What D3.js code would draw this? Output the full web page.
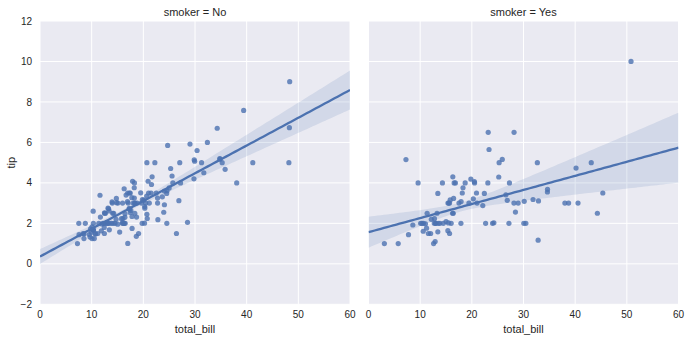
<!DOCTYPE html>
<html><head><meta charset="utf-8">
<script src="https://cdn.jsdelivr.net/npm/d3@7"></script>
<style>
html,body{margin:0;padding:0;background:#fff;}
svg{display:block;font-family:"Liberation Sans",Arial,sans-serif;}
</style></head>
<body><svg id="chart" width="690" height="341"></svg>
<script>
// ---- data (tips dataset, split by smoker) ----
const panelTitles = ["smoker = No", "smoker = Yes"];
const xTicks = [0, 10, 20, 30, 40, 50, 60];
const yTicks = [-2, 0, 2, 4, 6, 8, 10, 12];
const xLabel = "total_bill";
const yLabel = "tip";

const noBill = [16.99,10.34,21.01,23.68,24.59,25.29,8.77,26.88,15.04,14.78,10.27,35.26,15.42,18.43,14.83,21.58,10.33,16.29,16.97,20.65,17.92,20.29,15.77,39.42,19.82,17.81,13.37,12.69,21.7,19.65,9.55,18.35,15.06,20.69,17.78,24.06,16.31,16.93,18.69,31.27,16.04,17.46,13.94,9.68,30.4,18.29,22.23,32.4,28.55,18.04,12.54,10.29,34.81,9.94,25.56,19.49,26.41,48.27,17.59,20.08,16.45,20.23,12.02,17.07,14.73,10.51,27.2,22.76,17.29,16.66,10.07,15.98,34.83,13.03,18.28,24.71,21.16,22.49,22.75,12.46,20.92,18.24,14.0,7.25,38.07,23.95,25.71,17.31,29.93,10.65,12.43,24.08,11.69,13.42,14.26,15.95,12.48,29.8,8.52,14.52,11.38,22.82,19.08,20.27,11.17,12.26,18.26,8.51,10.33,14.15,13.16,17.47,34.3,41.19,27.05,16.43,8.35,18.64,11.87,9.78,7.51,14.07,13.13,17.26,24.55,19.77,29.85,48.17,25.0,13.39,16.49,21.5,12.66,16.21,13.81,24.52,20.76,31.71,20.69,7.56,48.33,15.98,20.45,13.28,11.61,10.77,10.07,35.83,29.03,17.82,18.78];
const noTip = [1.01,1.66,3.5,3.31,3.61,4.71,2.0,3.12,1.96,3.23,1.71,5.0,1.57,3.0,3.02,3.92,1.67,3.71,3.5,3.35,4.08,2.75,2.23,7.58,3.18,2.34,2.0,2.0,4.3,3.0,1.45,2.5,3.0,2.45,3.27,3.6,2.0,3.07,2.31,5.0,2.24,2.54,3.06,1.32,5.6,3.0,5.0,6.0,2.05,3.0,2.5,2.6,5.2,1.56,4.34,3.51,1.5,6.73,2.64,3.15,2.47,2.01,1.97,3.0,2.2,1.25,4.0,3.0,2.71,3.4,1.83,2.03,5.17,2.0,4.0,5.85,3.0,3.5,3.25,1.5,4.08,3.76,3.0,1.0,4.0,2.55,4.0,3.5,5.07,1.5,1.8,2.92,2.31,1.68,2.5,2.0,2.52,4.2,1.48,2.0,2.0,2.18,1.5,2.83,1.5,2.0,3.25,1.25,2.0,2.0,2.75,3.5,6.7,5.0,5.0,2.3,1.5,1.36,1.63,1.73,2.0,2.5,2.0,2.74,2.0,2.0,5.14,5.0,3.75,2.61,2.0,3.5,2.5,2.0,2.0,3.48,2.24,4.5,5.0,1.44,9.0,3.0,3.0,2.72,3.39,1.47,1.25,4.67,5.92,1.75,3.0];

const yesBill = [38.01,11.24,20.29,13.81,11.02,18.29,3.07,15.01,26.86,25.28,17.92,19.44,32.68,28.97,5.75,16.32,40.17,27.28,12.03,21.01,11.35,15.38,44.3,22.42,15.36,20.49,25.21,14.31,16.0,17.51,10.59,10.63,50.81,15.81,7.25,31.85,16.82,32.9,17.89,14.48,9.6,34.63,34.65,23.33,45.35,23.17,40.55,20.9,30.46,18.15,23.1,15.69,19.81,28.44,15.48,16.58,10.34,43.11,13.0,13.51,18.71,12.74,13.0,16.4,20.53,16.47,26.59,38.73,24.27,12.76,30.06,25.89,13.27,28.17,12.9,28.15,11.59,7.74,30.14,12.16,13.42,8.58,13.42,16.27,10.09,22.12,24.01,15.69,15.53,12.6,32.83,27.18,22.67];
const yesTip = [3.0,1.76,3.21,2.0,1.98,3.76,1.0,2.09,3.14,5.0,3.08,3.0,5.0,3.0,1.0,4.3,4.73,4.0,1.5,3.0,2.5,3.0,2.5,3.48,1.64,4.06,4.29,4.0,2.0,3.0,1.61,2.0,10.0,3.16,5.15,3.18,4.0,3.11,2.0,2.0,4.0,3.55,3.68,5.65,3.5,6.5,3.0,3.5,2.0,3.5,4.0,1.5,4.19,2.56,2.02,4.0,2.0,5.0,2.0,2.0,4.0,2.01,2.0,2.5,4.0,3.23,3.41,3.0,2.03,2.23,2.0,5.16,2.5,6.5,1.1,3.0,1.5,1.44,3.09,2.2,3.48,1.92,1.58,2.5,2.0,2.88,2.0,3.0,3.0,1.0,1.17,2.0,2.0];

const panels = [
  {title: panelTitles[0], xs: noBill, ys: noTip},
  {title: panelTitles[1], xs: yesBill, ys: yesTip}
];

// ---- layout ----
const svg = d3.select("#chart");
const pTop = 21, pBottom = 304.3, pw = 310;
const lefts = [40, 368.5];
const color = "#4C72B0";
const y = d3.scaleLinear().domain([-2, 12]).range([pBottom, pTop]);

function fit(xs, ys) {
  const n = xs.length;
  const xm = d3.mean(xs), ym = d3.mean(ys);
  let sxx = 0, sxy = 0;
  for (let i = 0; i < n; i++) { sxx += (xs[i]-xm)**2; sxy += (xs[i]-xm)*(ys[i]-ym); }
  const b1 = sxy / sxx;
  let s0 = 0, s1 = 0, s2 = 0;
  for (let i = 0; i < n; i++) {
    const c = xs[i]-xm, e = ys[i] - (ym + b1*c);
    s0 += e*e; s1 += e*e*c; s2 += e*e*c*c;
  }
  const adj = n/(n-2);
  return xv => {
    const c = xv - xm;
    const v = (s0/(n*n) + 2*c*s1/(n*sxx) + c*c*s2/(sxx*sxx)) * adj;
    const yh = ym + b1*c, h = 1.96*Math.sqrt(v);
    return {x: xv, y: yh, lo: yh - h, hi: yh + h};
  };
}

const fmt = d => d < 0 ? "\u2212" + Math.abs(d) : String(d);

panels.forEach((p, k) => {
  const x0 = lefts[k];
  const x = d3.scaleLinear().domain([0, 60]).range([x0, x0 + pw]);
  const g = svg.append("g");
  const clipId = "clip" + k;
  g.append("clipPath").attr("id", clipId).append("rect")
    .attr("x", x0).attr("y", pTop).attr("width", pw).attr("height", pBottom - pTop);
  g.append("rect").attr("x", x0).attr("y", pTop).attr("width", pw).attr("height", pBottom - pTop)
    .attr("fill", "#EAEAF2");
  g.append("g").selectAll("line").data(xTicks).join("line")
    .attr("x1", d => x(d)).attr("x2", d => x(d)).attr("y1", pTop).attr("y2", pBottom)
    .attr("stroke", "#fff").attr("stroke-width", 1);
  g.append("g").selectAll("line").data(yTicks).join("line")
    .attr("x1", x0).attr("x2", x0 + pw).attr("y1", d => y(d)).attr("y2", d => y(d))
    .attr("stroke", "#fff").attr("stroke-width", 1);
  g.append("g").selectAll("text").data(xTicks).join("text")
    .attr("x", d => x(d)).attr("y", 318).attr("text-anchor", "middle")
    .attr("font-size", 10).attr("fill", "#262626").text(fmt);
  if (k === 0) {
    g.append("g").selectAll("text").data(yTicks).join("text")
      .attr("x", 32).attr("y", d => y(d) + 3.6).attr("text-anchor", "end")
      .attr("font-size", 10).attr("fill", "#262626").text(fmt);
    g.append("text").attr("transform", `translate(15,${(pTop+pBottom)/2}) rotate(-90)`)
      .attr("text-anchor", "middle").attr("font-size", 11).attr("fill", "#262626").text(yLabel);
  }
  g.append("text").attr("x", x0 + pw/2).attr("y", 333).attr("text-anchor", "middle")
    .attr("font-size", 11).attr("fill", "#262626").text(xLabel);
  g.append("text").attr("x", x0 + pw/2).attr("y", 15.5).attr("text-anchor", "middle")
    .attr("font-size", 11).attr("fill", "#262626").text(p.title);

  const f = fit(p.xs, p.ys);
  const grid = d3.range(0, 101).map(i => f(60 * i / 100));
  const plot = g.append("g").attr("clip-path", `url(#${clipId})`);
  plot.append("g").selectAll("circle").data(p.xs.map((v, i) => [v, p.ys[i]])).join("circle")
    .attr("cx", d => x(d[0])).attr("cy", d => y(d[1])).attr("r", 2.6)
    .attr("fill", color).attr("fill-opacity", 0.8);
  plot.append("path").datum(grid)
    .attr("d", d3.area().x(d => x(d.x)).y0(d => y(d.lo)).y1(d => y(d.hi)))
    .attr("fill", color).attr("fill-opacity", 0.15);
  plot.append("path").datum(grid)
    .attr("d", d3.line().x(d => x(d.x)).y(d => y(d.y)))
    .attr("fill", "none").attr("stroke", color).attr("stroke-width", 2.3);
});
</script></body></html>
